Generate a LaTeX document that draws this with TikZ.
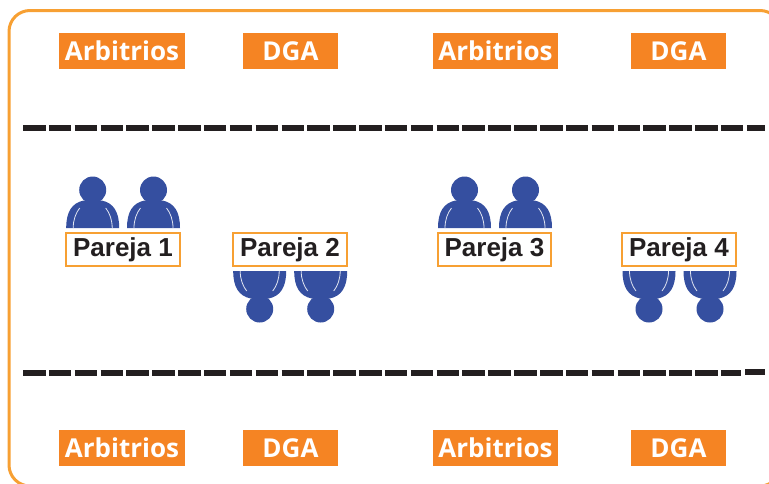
\documentclass[tikz,border=0pt]{standalone}
\usepackage{fontspec}
\setmainfont{Liberation Sans}
\newfontfamily\labelfont{Open Sans}
\definecolor{frameor}{HTML}{F7A033}
\definecolor{boxor}{HTML}{F58423}
\definecolor{persona}{HTML}{354FA0}
\definecolor{dashk}{HTML}{231F20}
\tikzset{
  x=1pt,y=-1pt,
  frame/.style={draw=frameor,line width=3pt,rounded corners=21pt},
  tag/.style={fill=boxor,text=white,inner sep=0pt,minimum height=36pt,font=\labelfont\bfseries\fontsize{26}{26}\selectfont,anchor=center},
  pareja/.style={draw=frameor,line width=2.4pt,fill=white,text=dashk,inner sep=0pt,minimum width=113.5pt,minimum height=33pt,text height=19pt,text depth=6pt,font=\bfseries\fontsize{26}{26}\selectfont,anchor=center},
  sep/.style={draw=dashk,line width=6pt,dash pattern=on 22.5pt off 3.35pt},
  body/.style={fill=persona},
  crease/.style={draw=white!85!persona,line width=.8pt},
  person/.pic={
    \fill[body] (-26.5,0) .. controls (-26.5,-16) and (-21,-25) .. (-9,-27.5)
      -- (9,-27.5) .. controls (21,-25) and (26.5,-16) .. (26.5,0) -- cycle;
    \fill[body] (0,-38) circle[radius=13.5];
    \draw[crease] (-19.5,0) .. controls (-19.5,-8) and (-17,-15) .. (-13,-20);
    \draw[crease] (19.5,0) .. controls (19.5,-8) and (17,-15) .. (13,-20);
  }
}
\begin{document}
\begin{tikzpicture}
\useasboundingbox (0,0) rectangle (769,483);
\clip (0,0) rectangle (769,483);
\draw[frame] (9,10.5) rectangle (781,486);
\node[tag,minimum width=126pt] (a1) at (122,51) {Arbitrios};
\node[tag,minimum width=95pt] (d1) at (290.5,51) {DGA};
\node[tag,minimum width=125pt] (a2) at (495.5,51) {Arbitrios};
\node[tag,minimum width=95pt] (d2) at (678.5,51) {DGA};
\node[tag,minimum width=126pt] (a3) at (122,448) {Arbitrios};
\node[tag,minimum width=95pt] (d3) at (290.5,448) {DGA};
\node[tag,minimum width=125pt] (a4) at (495.5,448) {Arbitrios};
\node[tag,minimum width=95pt] (d4) at (678.5,448) {DGA};
\coordinate (s1) at (23,128); \coordinate (e1) at (765,128);
\coordinate (s2) at (23,373); \coordinate (e2) at (741,373);
\coordinate (s3) at (745,372); \coordinate (e3) at (765,372);
\draw[sep] (s1) -- (e1);
\draw[sep] (s2) -- (e2);
\draw[sep] (s3) -- (e3);
\pic at (92.7,228) {person};
\pic at (153.5,228) {person};
\pic at (464.5,228) {person};
\pic at (525.5,228) {person};
\pic[yscale=-1] at (259.7,271) {person};
\pic[yscale=-1] at (320.7,271) {person};
\pic[yscale=-1] at (649,271) {person};
\pic[yscale=-1] at (710,271) {person};
\node[pareja] (p1) at (123,249.5) {Pareja 1};
\node[pareja] (p2) at (290,249.5) {Pareja 2};
\node[pareja] (p3) at (494.5,249.5) {Pareja 3};
\node[pareja] (p4) at (679,249.5) {Pareja 4};
\end{tikzpicture}
\end{document}
